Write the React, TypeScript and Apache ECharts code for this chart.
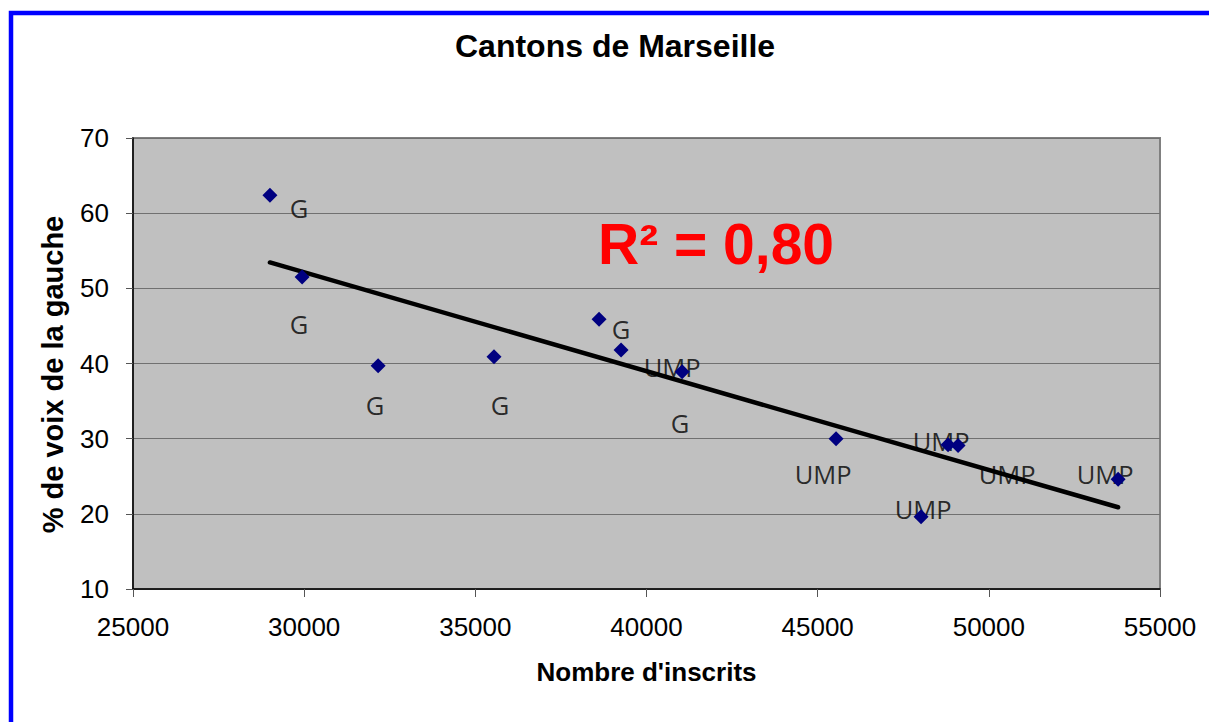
import React, { useEffect, useRef } from "react";
import * as echarts from "echarts";

const inscrits = [29000, 29940, 32160, 35546, 38614, 39257, 41040, 45537, 48021, 48809, 49102, 53776];
const voixGauche = [62.4, 51.5, 39.7, 40.9, 45.9, 41.8, 38.9, 30.0, 19.6, 29.2, 29.1, 24.6];

const etiquettes = ["G", "G", "G", "G", "G", "G", "UMP", "UMP", "UMP", "UMP", "UMP", "UMP"];
const etiquetteX = [29850, 29850, 32070, 35720, 39257, 40980, 40747, 45158, 48605, 50533, 53396, 48079];
const etiquetteY = [60.7, 45.3, 34.5, 34.5, 44.6, 32.1, 39.5, 25.3, 29.7, 25.3, 25.3, 20.6];

const yTicks = { min: 10, max: 70, interval: 10 };
const xTicks = { min: 25000, max: 55000, interval: 5000 };

const titre = "Cantons de Marseille";
const titreX = "Nombre d'inscrits";
const titreY = "% de voix de la gauche";
const texteR2 = "R² = 0,80";

function regression(xs: number[], ys: number[]) {
  const n = xs.length;
  const mx = xs.reduce((a, b) => a + b, 0) / n;
  const my = ys.reduce((a, b) => a + b, 0) / n;
  let sxy = 0;
  let sxx = 0;
  for (let i = 0; i < n; i++) {
    sxy += (xs[i] - mx) * (ys[i] - my);
    sxx += (xs[i] - mx) * (xs[i] - mx);
  }
  const b = sxy / sxx;
  const a = my - b * mx;
  return { a, b };
}

export default function App() {
  const ref = useRef<HTMLDivElement>(null);
  useEffect(() => {
    if (!ref.current) return;
    const chart = echarts.init(ref.current, null, { renderer: "svg" });
    const { a, b } = regression(inscrits, voixGauche);
    const xMin = Math.min(...inscrits);
    const xMax = Math.max(...inscrits);
    const tendance = [
      [xMin, a + b * xMin],
      [xMax, a + b * xMax],
    ];
    const axisFont = { fontFamily: "Liberation Sans, Arial, sans-serif", color: "#000" };
    chart.setOption({
      animation: false,
      backgroundColor: "#fff",
      title: {
        text: titre,
        left: 455,
        top: 30,
        padding: 0,
        textStyle: {
          fontFamily: "Liberation Sans, Arial, sans-serif",
          fontWeight: "bold",
          fontSize: 32,
          color: "#000",
        },
      },
      grid: {
        left: 133,
        top: 138,
        right: 49,
        bottom: 133,
        show: true,
        backgroundColor: "#C0C0C0",
        borderColor: "#808080",
        borderWidth: 2,
      },
      xAxis: {
        type: "value",
        min: xTicks.min,
        max: xTicks.max,
        interval: xTicks.interval,
        name: titreX,
        nameLocation: "middle",
        nameGap: 70,
        nameTextStyle: { ...axisFont, fontWeight: "bold", fontSize: 26 },
        axisLine: { show: true, onZero: false, lineStyle: { color: "#000", width: 1.5 } },
        axisTick: { show: true, length: 8, lineStyle: { color: "#555" } },
        axisLabel: { ...axisFont, fontSize: 26, margin: 25, formatter: (v: number) => String(v) },
        splitLine: { show: false },
      },
      yAxis: {
        type: "value",
        min: yTicks.min,
        max: yTicks.max,
        interval: yTicks.interval,
        name: titreY,
        nameLocation: "middle",
        nameRotate: 90,
        nameGap: 66,
        nameTextStyle: {
          ...axisFont,
          fontWeight: "bold",
          fontSize: 29,
          padding: [0, 22, 0, 0],
        },
        axisLine: { show: true, onZero: false, lineStyle: { color: "#000", width: 1.5 } },
        axisTick: { show: true, length: 7, lineStyle: { color: "#555" } },
        axisLabel: { ...axisFont, fontSize: 26, margin: 24 },
        splitLine: { show: true, lineStyle: { color: "#707070", width: 1 } },
      },
      series: [
        {
          type: "scatter",
          name: "étiquettes",
          z: 1,
          symbolSize: 0,
          silent: true,
          data: etiquetteX.map((x, i) => [x, etiquetteY[i]]),
          label: {
            show: true,
            position: "inside",
            formatter: (p: any) => etiquettes[p.dataIndex],
            fontFamily: "Open Sans, DejaVu Sans, sans-serif",
            fontSize: 25.5,
            color: "#000",
          },
        },
        {
          type: "line",
          name: "tendance",
          z: 2,
          data: tendance,
          symbol: "none",
          lineStyle: { color: "#000", width: 4.5, cap: "round" },
        },
        {
          type: "scatter",
          name: "cantons",
          z: 3,
          symbol: "diamond",
          symbolSize: 15,
          itemStyle: { color: "#000080", opacity: 1 },
          data: inscrits.map((x, i) => [x, voixGauche[i]]),
        },
      ],
      graphic: [
        {
          type: "rect",
          shape: { x: 11, y: 13, width: 1400, height: 900 },
          style: { fill: "none", stroke: "#0000FF", lineWidth: 4.5 },
          silent: true,
          z: 100,
        },
        {
          type: "text",
          x: 716,
          y: 244,
          style: {
            text: texteR2,
            fill: "#FF0000",
            fontFamily: "Liberation Sans, Arial, sans-serif",
            fontWeight: "bold",
            fontSize: 57,
            align: "center",
            verticalAlign: "middle",
          },
          z: 50,
        },
      ],
    });
    return () => chart.dispose();
  }, []);
  return (
    <div
      ref={ref}
      style={{ position: "fixed", left: 0, top: 0, width: 1209, height: 722 }}
    />
  );
}
